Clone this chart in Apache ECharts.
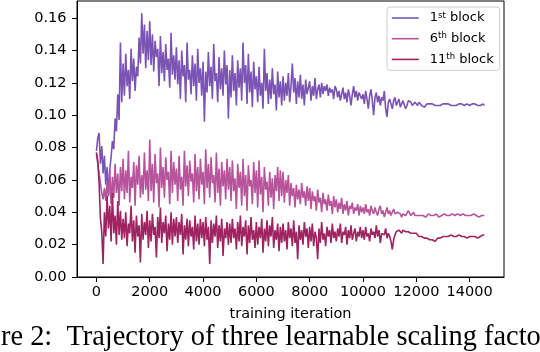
<!DOCTYPE html>
<html>
<head>
<meta charset="utf-8">
<script src="https://cdn.jsdelivr.net/npm/echarts@6/dist/echarts.min.js"></script>
<style>
  html, body { margin: 0; padding: 0; background: #fff; }
  #chart { width: 540px; height: 352px; }
</style>
</head>
<body>
<div id="chart"></div>
<script>
// one value every 50 iterations
const STEP = 50;

const block1 = [
  0.078, 0.086, 0.089, 0.070, 0.081, 0.064, 0.075, 0.057, 0.068, 0.050, 0.066, 0.074, 0.084, 0.079, 0.098, 0.090, 0.113, 0.097, 0.145, 0.108,
  0.132, 0.112, 0.138, 0.118, 0.128, 0.110, 0.141, 0.121, 0.135, 0.115, 0.130, 0.124, 0.148, 0.132, 0.163, 0.138, 0.156, 0.129, 0.152, 0.134,
  0.158, 0.131, 0.150, 0.127, 0.146, 0.136, 0.141, 0.118, 0.149, 0.126, 0.139, 0.121, 0.144, 0.128, 0.135, 0.117, 0.151, 0.125, 0.137, 0.122,
  0.142, 0.119, 0.134, 0.110, 0.140, 0.124, 0.131, 0.108, 0.145, 0.122, 0.128, 0.113, 0.137, 0.118, 0.132, 0.109, 0.141, 0.120, 0.129, 0.112,
  0.133, 0.096, 0.127, 0.114, 0.139, 0.118, 0.130, 0.110, 0.144, 0.121, 0.126, 0.108, 0.136, 0.116, 0.129, 0.112, 0.140, 0.119, 0.131, 0.098,
  0.128, 0.111, 0.137, 0.115, 0.126, 0.106, 0.134, 0.117, 0.129, 0.109, 0.145, 0.120, 0.131, 0.107, 0.138, 0.114, 0.127, 0.105, 0.133, 0.116,
  0.124, 0.108, 0.130, 0.112, 0.120, 0.104, 0.141, 0.115, 0.126, 0.107, 0.122, 0.110, 0.129, 0.113, 0.119, 0.103, 0.127, 0.111, 0.121, 0.106,
  0.124, 0.109, 0.120, 0.112, 0.126, 0.108, 0.118, 0.132, 0.114, 0.123, 0.107, 0.121, 0.111, 0.125, 0.110, 0.119, 0.106, 0.122, 0.113, 0.117,
  0.121, 0.109, 0.118, 0.112, 0.123, 0.110, 0.116, 0.119, 0.111, 0.120, 0.113, 0.118, 0.115, 0.119, 0.112, 0.117, 0.114, 0.116, 0.110, 0.118,
  0.116, 0.111, 0.115, 0.109, 0.113, 0.117, 0.110, 0.114, 0.108, 0.116, 0.112, 0.106, 0.113, 0.118, 0.111, 0.115, 0.109, 0.114, 0.112, 0.110,
  0.113, 0.107, 0.115, 0.110, 0.104, 0.112, 0.116, 0.109, 0.100, 0.111, 0.114, 0.108, 0.112, 0.106, 0.111, 0.109, 0.115, 0.104, 0.099, 0.108,
  0.110, 0.107, 0.104, 0.109, 0.111, 0.106, 0.108, 0.110, 0.105, 0.107, 0.109, 0.108, 0.104, 0.106, 0.109, 0.110, 0.108, 0.106, 0.107, 0.108,
  0.107, 0.106, 0.108, 0.107, 0.106, 0.107, 0.105, 0.106, 0.107, 0.108, 0.107, 0.106, 0.107, 0.107, 0.106, 0.105, 0.106, 0.107, 0.106, 0.107,
  0.107, 0.106, 0.107, 0.108, 0.107, 0.106, 0.106, 0.107, 0.106, 0.105, 0.106, 0.107, 0.107, 0.108, 0.107, 0.106, 0.106, 0.107, 0.107, 0.106,
  0.106, 0.107, 0.107, 0.108, 0.107, 0.106, 0.106, 0.107, 0.106, 0.106, 0.107, 0.106
];

const block6 = [
  0.076, 0.070, 0.064, 0.058, 0.052, 0.048, 0.055, 0.047, 0.058, 0.050, 0.066, 0.045, 0.062, 0.049, 0.070, 0.052, 0.064, 0.044, 0.068, 0.053,
  0.073, 0.048, 0.066, 0.052, 0.078, 0.046, 0.062, 0.055, 0.071, 0.044, 0.069, 0.057, 0.075, 0.049, 0.063, 0.051, 0.077, 0.054, 0.066, 0.047,
  0.085, 0.053, 0.070, 0.046, 0.076, 0.058, 0.064, 0.043, 0.080, 0.055, 0.068, 0.049, 0.074, 0.060, 0.065, 0.045, 0.078, 0.052, 0.071, 0.057,
  0.067, 0.047, 0.075, 0.054, 0.062, 0.044, 0.078, 0.056, 0.069, 0.050, 0.072, 0.059, 0.064, 0.046, 0.076, 0.053, 0.068, 0.048, 0.073, 0.057,
  0.065, 0.045, 0.079, 0.055, 0.070, 0.049, 0.074, 0.058, 0.063, 0.046, 0.077, 0.052, 0.067, 0.044, 0.071, 0.056, 0.066, 0.048, 0.073, 0.054,
  0.068, 0.047, 0.072, 0.053, 0.061, 0.042, 0.070, 0.055, 0.065, 0.044, 0.073, 0.050, 0.063, 0.041, 0.069, 0.056, 0.060, 0.045, 0.071, 0.052,
  0.066, 0.043, 0.072, 0.051, 0.062, 0.040, 0.068, 0.054, 0.059, 0.044, 0.065, 0.049, 0.061, 0.042, 0.063, 0.053, 0.068, 0.047, 0.066, 0.050,
  0.065, 0.046, 0.060, 0.052, 0.063, 0.044, 0.058, 0.050, 0.055, 0.043, 0.057, 0.048, 0.054, 0.045, 0.058, 0.049, 0.053, 0.044, 0.056, 0.047,
  0.055, 0.042, 0.053, 0.047, 0.050, 0.041, 0.054, 0.046, 0.049, 0.040, 0.052, 0.045, 0.048, 0.041, 0.051, 0.044, 0.047, 0.039, 0.050, 0.043,
  0.048, 0.040, 0.046, 0.042, 0.049, 0.039, 0.045, 0.041, 0.047, 0.038, 0.044, 0.042, 0.046, 0.039, 0.043, 0.041, 0.045, 0.038, 0.044, 0.040,
  0.043, 0.039, 0.045, 0.040, 0.042, 0.038, 0.044, 0.041, 0.039, 0.043, 0.040, 0.038, 0.042, 0.044, 0.039, 0.041, 0.037, 0.040, 0.043, 0.039,
  0.041, 0.038, 0.040, 0.042, 0.039, 0.038, 0.040, 0.041, 0.039, 0.037, 0.039, 0.040, 0.038, 0.039, 0.041, 0.040, 0.038, 0.039, 0.040, 0.038,
  0.039, 0.038, 0.037, 0.038, 0.039, 0.038, 0.038, 0.037, 0.038, 0.039, 0.038, 0.038, 0.037, 0.038, 0.038, 0.039, 0.038, 0.037, 0.038, 0.038,
  0.038, 0.039, 0.038, 0.038, 0.037, 0.038, 0.038, 0.039, 0.039, 0.038, 0.038, 0.039, 0.038, 0.038, 0.039, 0.039, 0.038, 0.038, 0.039, 0.038,
  0.039, 0.038, 0.038, 0.039, 0.039, 0.038, 0.038, 0.037, 0.038, 0.038, 0.038, 0.038
];

const block11 = [
  0.077, 0.072, 0.058, 0.036, 0.028, 0.008, 0.040, 0.025, 0.050, 0.030, 0.044, 0.022, 0.052, 0.027, 0.038, 0.020, 0.047, 0.026, 0.041, 0.023,
  0.036, 0.024, 0.040, 0.019, 0.033, 0.027, 0.044, 0.022, 0.035, 0.015, 0.038, 0.025, 0.032, 0.009, 0.039, 0.023, 0.034, 0.026, 0.041, 0.018,
  0.035, 0.022, 0.039, 0.026, 0.031, 0.012, 0.037, 0.024, 0.043, 0.021, 0.034, 0.027, 0.038, 0.016, 0.033, 0.023, 0.040, 0.020, 0.036, 0.025,
  0.037, 0.021, 0.034, 0.026, 0.039, 0.014, 0.032, 0.023, 0.036, 0.019, 0.035, 0.025, 0.031, 0.017, 0.038, 0.022, 0.033, 0.020, 0.036, 0.024,
  0.034, 0.019, 0.037, 0.023, 0.031, 0.008, 0.035, 0.021, 0.033, 0.025, 0.038, 0.018, 0.032, 0.022, 0.036, 0.013, 0.030, 0.024, 0.034, 0.020,
  0.033, 0.021, 0.036, 0.024, 0.030, 0.017, 0.034, 0.022, 0.038, 0.019, 0.031, 0.025, 0.035, 0.014, 0.032, 0.021, 0.037, 0.023, 0.029, 0.018,
  0.034, 0.020, 0.031, 0.024, 0.036, 0.015, 0.030, 0.022, 0.035, 0.019, 0.032, 0.025, 0.037, 0.018, 0.029, 0.023, 0.033, 0.016, 0.031, 0.021,
  0.033, 0.022, 0.029, 0.017, 0.034, 0.024, 0.030, 0.019, 0.035, 0.021, 0.028, 0.011, 0.032, 0.023, 0.029, 0.020, 0.034, 0.025, 0.030, 0.018,
  0.031, 0.022, 0.033, 0.019, 0.028, 0.024, 0.011, 0.030, 0.021, 0.034, 0.023, 0.027, 0.019, 0.031, 0.025, 0.029, 0.021, 0.033, 0.024, 0.028,
  0.022, 0.030, 0.025, 0.033, 0.021, 0.028, 0.026, 0.031, 0.020, 0.029, 0.024, 0.032, 0.023, 0.027, 0.030, 0.022, 0.028, 0.025, 0.031, 0.024,
  0.029, 0.023, 0.031, 0.025, 0.027, 0.022, 0.030, 0.026, 0.028, 0.024, 0.032, 0.025, 0.029, 0.021, 0.027, 0.028, 0.026, 0.030, 0.024, 0.027,
  0.025, 0.022, 0.017, 0.023, 0.026, 0.028, 0.027, 0.029, 0.028, 0.027, 0.029, 0.030, 0.028, 0.027, 0.028, 0.029, 0.027, 0.028, 0.027, 0.026,
  0.027, 0.026, 0.025, 0.024, 0.025, 0.024, 0.024, 0.023, 0.024, 0.023, 0.023, 0.022, 0.023, 0.023, 0.022, 0.023, 0.024, 0.023, 0.024, 0.025,
  0.025, 0.026, 0.025, 0.026, 0.025, 0.025, 0.026, 0.026, 0.025, 0.024, 0.025, 0.025, 0.026, 0.025, 0.025, 0.024, 0.025, 0.025, 0.024, 0.025,
  0.025, 0.024, 0.025, 0.024, 0.025, 0.025, 0.024, 0.025, 0.025, 0.025, 0.026, 0.026
];

const seriesNames = ["1st block", "6th block", "11th block"];
const seriesColors = ["#7a53b4", "#b7539b", "#9e2360"];
const xTicks = [0, 2000, 4000, 6000, 8000, 10000, 12000, 14000];
const yTicks = [0, 0.02, 0.04, 0.06, 0.08, 0.1, 0.12, 0.14, 0.16];

const FONT = "DejaVu Sans";

function toPairs(vals) {
  return vals.map((v, i) => [i * STEP, v]);
}

const chart = echarts.init(document.getElementById("chart"));

const option = {
  animation: false,
  grid: {
    left: 77,
    right: 36,
    top: 1,
    bottom: 75,
    show: true,
    borderColor: "#000",
    borderWidth: 1,
  },
  legend: {
    orient: "vertical",
    left: 387,
    top: 7,
    itemWidth: 27,
    itemHeight: 14,
    itemGap: 6.7,
    padding: [4, 6, 4, 4],
    backgroundColor: "rgba(255,255,255,0.8)",
    borderColor: "#cccccc",
    borderWidth: 1,
    borderRadius: 3,
    itemStyle: { opacity: 0 },
    lineStyle: { width: 1.6 },
    data: seriesNames,
    formatter: (name) => name.replace(/^(\d+)(st|th)/, "$1{s|$2}"),
    textStyle: {
      fontFamily: FONT,
      fontSize: 13,
      color: "#000",
      padding: [0, 0, 0, 6],
      lineHeight: 14,
      rich: {
        s: { fontFamily: FONT, fontSize: 8.5, verticalAlign: "top", lineHeight: 14 },
      },
    },
  },
  xAxis: {
    type: "value",
    min: -729,
    max: 15290,
    name: "training iteration",
    nameLocation: "middle",
    nameGap: 30,
    nameTextStyle: { fontFamily: FONT, fontSize: 14.5, color: "#000" },
    axisLine: { onZero: false, lineStyle: { color: "#000", width: 1 } },
    axisTick: { customValues: xTicks, length: 5, lineStyle: { color: "#000" } },
    axisLabel: {
      customValues: xTicks,
      fontFamily: FONT,
      fontSize: 14.5,
      color: "#000",
      margin: 8,
      formatter: (v) => String(v),
    },
    splitLine: { show: false },
  },
  yAxis: {
    type: "value",
    min: 0,
    max: 0.1706,
    axisLine: { show: true, onZero: false, lineStyle: { color: "#000", width: 1 } },
    axisTick: { show: true, customValues: yTicks, length: 5, lineStyle: { color: "#000" } },
    axisLabel: {
      customValues: yTicks,
      fontFamily: FONT,
      fontSize: 14.5,
      color: "#000",
      margin: 10.5,
      formatter: (v) => v.toFixed(2),
    },
    splitLine: { show: false },
  },
  graphic: [
    {
      type: "text",
      left: 1,
      top: 324,
      style: {
        text: "re 2:  Trajectory of three learnable scaling facto",
        fontFamily: "Liberation Serif",
        fontSize: 28.4,
        fill: "#000",
      },
    },
  ],
  series: [block1, block6, block11].map((vals, k) => ({
    name: seriesNames[k],
    type: "line",
    data: toPairs(vals),
    symbol: "none",
    color: seriesColors[k],
    lineStyle: { width: 1.6, color: seriesColors[k] },
  })),
};

chart.setOption(option);
</script>
</body>
</html>
